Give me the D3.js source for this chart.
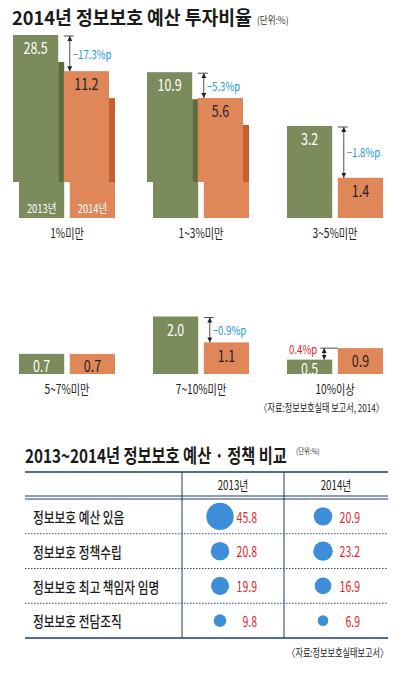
<!DOCTYPE html>
<html>
<head>
<meta charset="utf-8">
<script src="https://cdn.jsdelivr.net/npm/d3@7"></script>
<style>
  body { margin: 0; background: #fff; }
  text { font-family: 'Noto Sans CJK KR', 'Noto Sans', sans-serif; }
</style>
</head>
<body>
<svg id="chart" width="409" height="683"></svg>
<script>
// 2014 정보보호 예산 투자비율 (단위:%)
const categories = ["1%미만", "1~3%미만", "3~5%미만", "5~7%미만", "7~10%미만", "10%이상"];
const years = ["2013년", "2014년"];
const ratio2013 = [28.5, 10.9, 3.2, 0.7, 2.0, 0.5];
const ratio2014 = [11.2, 5.6, 1.4, 0.7, 1.1, 0.9];

// 2013~2014 정보보호 예산·정책 비교 (단위:%)
const policyItems = ["정보보호 예산 있음", "정보보호 정책수립", "정보보호 최고 책임자 임명", "정보보호 전담조직"];
const policy2013 = [45.8, 20.8, 19.9, 9.8];
const policy2014 = [20.9, 23.2, 16.9, 6.9];

const green = "#7b8b5c", greenDark = "#5e6c3c";
const orange = "#e0875a", orangeDark = "#c4602f";
const blue = "#1a9ad8", red = "#e8202a", navy = "#1e3a6e";

const svg = d3.select("#chart");

// helper: condensed text (the original uses a narrow face)
function label(g, x, y, str, size, opt) {
    opt = opt || {};
    return g.append("text")
        .attr("transform", "translate(" + x + "," + y + ") scale(" + (opt.sx || 0.8) + ",1)")
        .attr("text-anchor", opt.anchor || "middle")
        .attr("dominant-baseline", opt.baseline || "central")
        .attr("font-size", size)
        .attr("font-weight", opt.weight || 400)
        .attr("fill", opt.fill || "#222")
        .text(str);
}

// titles: squeeze horizontally to the width they take in the original
function title(x, y, str, width) {
    const t = svg.append("text")
        .attr("font-size", 19).attr("font-weight", 700).attr("fill", "#1a1a1a")
        .text(str);
    const sx = width / t.node().getComputedTextLength();
    t.attr("transform", "translate(" + x + "," + y + ") scale(" + sx + ",1)");
    return t;
}

const defs = svg.append("defs");
defs.append("marker")
    .attr("id", "ah")
    .attr("viewBox", "0 0 6 6")
    .attr("refX", 6).attr("refY", 3)
    .attr("markerUnits", "userSpaceOnUse")
    .attr("markerWidth", 5).attr("markerHeight", 5)
    .attr("orient", "auto-start-reverse")
    .append("path").attr("d", "M0,0L6,3L0,6Z").attr("fill", "#222");

// ---------- title 1 ----------
title(12, 25, "2014년 정보보호 예산 투자비율", 240);
label(svg, 257, 20, "(단위:%)", 10, {anchor: "start", sx: 0.85, fill: "#333"});

// ---------- bar chart ----------
const baselines = [218, 374];
const colX = d3.scalePoint().domain([0, 1, 2]).range([67, 335]);
const yearX = d3.scaleBand().domain([0, 1]).range([-48, 48]).paddingInner(0.11);
const bw = yearX.bandwidth();

// small values drawn to scale, large ones on a compressed (broken) log scale
const BREAK = 4.5;
const hLin = d3.scaleLinear().domain([0, 4]).range([0, 115]);
const hLog = d3.scaleLog().domain([4, 30]).range([107, 185]);
const barH = v => v > BREAK ? hLog(v) : hLin(v);
const breakH = 36, shift = 6, stripDrop = 27;

const groups = categories.map((c, i) => ({
    name: c,
    row: Math.floor(i / 3),
    col: i % 3,
    values: [ratio2013[i], ratio2014[i]]
}));

const barsG = svg.append("g").attr("id", "barsG");

groups.forEach((grp, i) => {
    const base = baselines[grp.row];
    const cx = colX(grp.col);
    const g = barsG.append("g");
    const info = grp.values.map((v, j) => {
        const x0 = cx + yearX(j);
        const top = base - barH(v);
        const broken = v > BREAK;
        const fill = j === 0 ? green : orange;
        const dark = j === 0 ? greenDark : orangeDark;
        if (broken) {
            g.append("rect").attr("x", x0).attr("y", base - breakH)
                .attr("width", bw).attr("height", breakH).attr("fill", fill);
            g.append("rect").attr("x", x0 - shift).attr("y", top)
                .attr("width", bw).attr("height", base - breakH - top).attr("fill", fill);
            g.append("rect").attr("x", x0 + bw - shift).attr("y", top + stripDrop)
                .attr("width", shift).attr("height", base - breakH - top - stripDrop).attr("fill", dark);
        } else {
            g.append("rect").attr("x", x0).attr("y", top)
                .attr("width", bw).attr("height", base - top).attr("fill", fill);
        }
        const lx = broken ? x0 - shift + bw / 2 : x0 + bw / 2;
        const ly = Math.min(top + 12, (top + base) / 2 + 1);
        label(g, lx, ly, v.toFixed(1), 16, {fill: j === 0 ? "#fff" : "#222", sx: 0.78});
        if (i === 0) {
            label(g, x0 + bw / 2, base - 10, years[j], 12, {fill: "#fff", sx: 0.78});
        }
        return {x0: broken ? x0 - shift : x0, top: top};
    });

    // difference arrow
    const d = Math.round((grp.values[1] - grp.values[0]) * 10) / 10;
    if (d < 0) {
        const ax = info[1].x0 + 6;
        g.append("line").attr("x1", ax - 6).attr("x2", ax + 4)
            .attr("y1", info[0].top + 1).attr("y2", info[0].top + 1)
            .attr("stroke", "#222").attr("stroke-width", 0.8);
        g.append("line").attr("x1", ax).attr("x2", ax)
            .attr("y1", info[0].top + 1).attr("y2", info[1].top)
            .attr("stroke", "#222").attr("stroke-width", 0.8)
            .attr("marker-start", "url(#ah)").attr("marker-end", "url(#ah)");
        label(g, ax + 3, (info[0].top + info[1].top) / 2, "−" + Math.abs(d).toFixed(1) + "%p", 12,
            {anchor: "start", fill: blue, sx: 0.8});
    } else if (d > 0) {
        const ax = info[0].x0 + bw - 8;
        g.append("line").attr("x1", ax - 4).attr("x2", info[1].x0)
            .attr("y1", info[1].top).attr("y2", info[1].top)
            .attr("stroke", "#222").attr("stroke-width", 0.8);
        g.append("line").attr("x1", ax).attr("x2", ax)
            .attr("y1", info[1].top).attr("y2", info[0].top)
            .attr("stroke", "#222").attr("stroke-width", 0.8)
            .attr("marker-start", "url(#ah)").attr("marker-end", "url(#ah)");
        label(g, ax - 7, info[1].top, d.toFixed(1) + "%p", 12,
            {anchor: "end", fill: red, sx: 0.8});
    }

    label(g, cx, base + 14, grp.name, 13, {sx: 0.78});
});

label(svg, 384, 407, "〈자료:정보보호실태  보고서, 2014〉", 11, {anchor: "end", sx: 0.74});

// ---------- title 2 ----------
title(25, 463, "2013~2014년 정보보호 예산 · 정책 비교", 262);
label(svg, 296, 451, "(단위:%)", 8, {anchor: "start", sx: 0.8, fill: "#333"});

// ---------- table ----------
const tLeft = 25, tRight = 388, tTop = 472, tHead = 496, tBottom = 638;
const dividers = [182, 284];
const colCenter = [233, 336];
const rowY = d3.scaleBand().domain(d3.range(policyItems.length)).range([tHead + 3, tBottom]);
const rScale = d3.scaleSqrt().domain([0, 50]).range([0, 14.3]);

const tableG = svg.append("g").attr("id", "tableG");
[tTop, tHead, tHead + 3, tBottom].forEach(y => {
    tableG.append("line").attr("x1", tLeft).attr("x2", tRight).attr("y1", y).attr("y2", y)
        .attr("stroke", navy).attr("stroke-width", y === tTop || y === tBottom ? 1.3 : 1);
});
dividers.forEach(x => {
    tableG.append("line").attr("x1", x).attr("x2", x).attr("y1", tTop).attr("y2", tBottom)
        .attr("stroke", navy).attr("stroke-width", 1);
});
tableG.selectAll("line.sep")
    .data(d3.range(1, policyItems.length))
    .enter().append("line")
    .attr("class", "sep")
    .attr("x1", tLeft).attr("x2", tRight)
    .attr("y1", d => rowY(d)).attr("y2", d => rowY(d))
    .attr("stroke", navy).attr("stroke-width", 0.9).attr("stroke-dasharray", "1.5,1.5");

years.forEach((y, j) => label(tableG, colCenter[j], (tTop + tHead) / 2, y, 13, {sx: 0.75}));

const series = [policy2013, policy2014];
policyItems.forEach((item, i) => {
    const cy = rowY(i) + rowY.bandwidth() / 2;
    label(tableG, 33, cy, item, 15, {anchor: "start", sx: 0.78, fill: "#1a1a1a", weight: 500});
    series.forEach((vals, j) => {
        tableG.append("circle")
            .attr("cx", colCenter[j] - 13).attr("cy", cy)
            .attr("r", rScale(vals[i]))
            .attr("fill", "#3d8ed8");
        label(tableG, colCenter[j] + 24, cy, vals[i].toFixed(1), 15, {anchor: "end", fill: red, sx: 0.7});
    });
});

label(svg, 388, 652, "〈자료:정보보호실태보고서〉", 11, {anchor: "end", sx: 0.74});
</script>
</body>
</html>
